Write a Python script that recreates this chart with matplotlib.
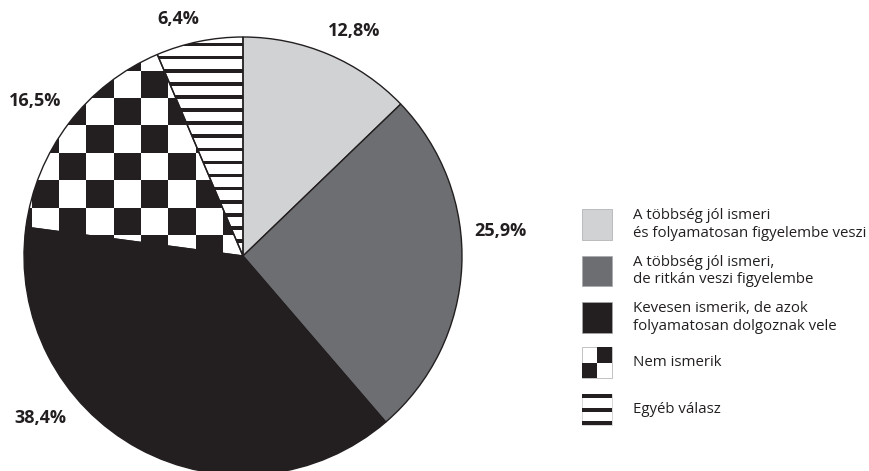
import numpy as np
import matplotlib
matplotlib.use("Agg")
import matplotlib.pyplot as plt
from matplotlib.patches import Rectangle

# ---- data ----
categories = [
    "A többség jól ismeri\nés folyamatosan figyelembe veszi",
    "A többség jól ismeri,\nde ritkán veszi figyelembe",
    "Kevesen ismerik, de azok\nfolyamatosan dolgoznak vele",
    "Nem ismerik",
    "Egyéb válasz",
]
values = [12.8, 25.9, 38.4, 16.5, 6.4]
value_labels = ["12,8%", "25,9%", "38,4%", "16,5%", "6,4%"]

# ---- style ----
W, H = 869, 471
DARK = "#231f20"
colors = ["#d1d2d4", "#6d6e71", DARK, "white", "white"]
patterns = [None, None, None, "checker", "stripes"]
label_pos = [(354, 31), (500, 231), (40, 418), (35, 101), (178, 19)]  # pixel coords (y down)

plt.rcParams["font.family"] = ["Open Sans", "DejaVu Sans"]

fig = plt.figure(figsize=(W / 100, H / 100), dpi=100)
ax = fig.add_axes([0, 0, 1, 1])

cx, cy, R = 243, H - 256, 219
wedges, _ = ax.pie(values, colors=colors, startangle=90, counterclock=False,
                   center=(cx, cy), radius=R,
                   wedgeprops=dict(edgecolor=DARK, linewidth=1.0))
ax.set_xlim(0, W)
ax.set_ylim(0, H)
ax.set_aspect("equal")
ax.axis("off")


def add_checker(clip, x0, y0, step_x, step_y, xr, yr, zorder=1, parity=1):
    for i in range(*xr):
        for j in range(*yr):
            if (i + j) % 2 == parity:
                px = x0 + i * step_x
                py = y0 + j * step_y
                r = Rectangle((px, H - py - step_y), step_x, step_y,
                              facecolor=DARK, edgecolor="none", zorder=zorder)
                ax.add_patch(r)
                if clip is not None:
                    r.set_clip_path(clip)


def add_stripes(clip, y_start, spacing, thick, n_range, x_left, width, zorder=1):
    for k in range(*n_range):
        py = y_start + k * spacing
        r = Rectangle((x_left, H - py - thick), width, thick,
                      facecolor=DARK, edgecolor="none", zorder=zorder)
        ax.add_patch(r)
        if clip is not None:
            r.set_clip_path(clip)


for w, pat in zip(wedges, patterns):
    w.set_zorder(3)
    if pat == "checker":
        w.set_facecolor("none")
        add_checker(w, 59, 70.5, 27.35, 27.45, (-3, 9), (-2, 9))
    elif pat == "stripes":
        w.set_facecolor("none")
        add_stripes(w, 55.8 - 13.1 * 3, 13.1, 3.6, (0, 20), 100, 160)

for lab, (px, py) in zip(value_labels, label_pos):
    ax.text(px, H - py, lab, ha="center", va="center", fontsize=13,
            fontweight="bold", color=DARK)

# ---- legend ----
leg_centers = [224.5, 271, 317.5, 362.5, 409.5]
lx, lw, lh = 581.5, 30.5, 30.5
for lab, col, pat, yc in zip(categories, colors, patterns, leg_centers):
    top = yc - lh / 2
    if pat is None:
        ax.add_patch(Rectangle((lx, H - top - lh), lw, lh, facecolor=col,
                               edgecolor="#a7a9ac", linewidth=0.5, zorder=3))
    elif pat == "checker":
        ax.add_patch(Rectangle((lx, H - top - lh), lw, lh, facecolor="white",
                               edgecolor="#a7a9ac", linewidth=0.5, zorder=2))
        add_checker(None, lx, top, lw / 2, lh / 2, (0, 2), (0, 2), zorder=3, parity=1)
    else:
        ax.add_patch(Rectangle((lx, H - top - lh), lw, lh, facecolor="white",
                               edgecolor="#c8c8c8", linewidth=0.5, zorder=2))
        add_stripes(None, top, (lh - 4) / 2, 4, (0, 3), lx, lw, zorder=3)
    ax.text(633, H - yc, lab, ha="left", va="center", fontsize=10.8,
            color=DARK, linespacing=1.25)

fig.savefig("out.png", dpi=100)
